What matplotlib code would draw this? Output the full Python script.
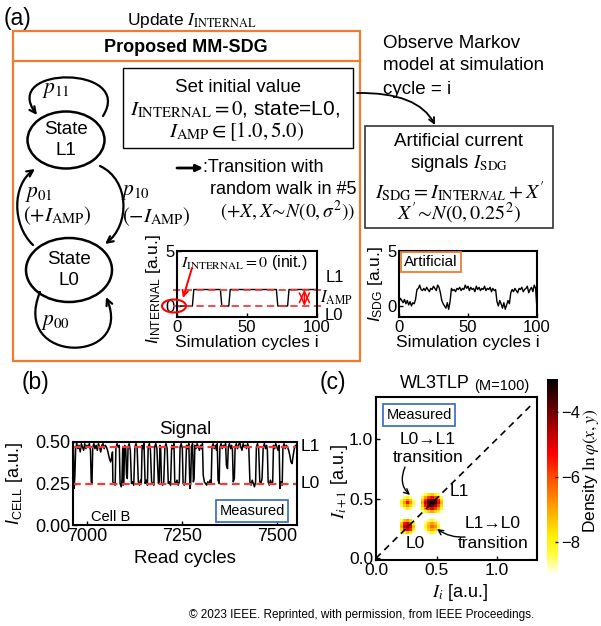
import numpy as np
import matplotlib
matplotlib.use('Agg')
import matplotlib.pyplot as plt
from matplotlib.patches import Rectangle, Ellipse, FancyArrowPatch
from matplotlib.path import Path
from matplotlib.ticker import FormatStrFormatter
from matplotlib.colors import LinearSegmentedColormap

plt.rcParams['font.family'] = ['Liberation Sans', 'DejaVu Sans']
plt.rcParams['mathtext.fontset'] = 'custom'
plt.rcParams['mathtext.rm'] = 'Liberation Sans'
plt.rcParams['mathtext.it'] = 'Liberation Sans:italic'
plt.rcParams['mathtext.bf'] = 'Liberation Sans:bold'

# ---------------- data ----------------
# (a) left inset: internal current of the Markov model
int_cycles = [0, 11, 12, 31, 32, 37, 38, 71, 72, 79, 80, 100]
int_values = [0, 0, 1.5, 1.5, 0, 0, 1.5, 1.5, 0, 0, 1.5, 1.5]
int_levels = [0.0, 1.5]

# (a) right inset: artificial current I_SDG
sdg_cycles = list(range(101))
sdg_values = [0.4, 0.7, 0.5, 0.3, 0.6, 0.2, 0.5, 0.1, 0.4, 0.0, 0.3, 0.2,
              0.6,
              1.5, 1.6, 1.9, 1.5, 1.4, 1.6, 1.4, 1.7, 1.5, 1.3, 1.6, 1.5, 1.8, 1.6, 1.4, 1.9, 1.7, 1.2,
              0.5, 0.2, 0.0, -0.2, 0.3, -0.3, 0.4,
              1.6, 1.4, 1.5, 1.3, 1.6, 1.5, 1.7, 1.4, 1.6, 1.5, 1.9, 1.6, 1.8, 1.4, 1.7, 1.5, 1.6,
              1.3, 1.8, 1.5, 1.7, 1.4, 1.6, 1.5, 1.8, 1.4, 1.6, 1.5, 1.7, 1.3, 1.6, 1.4, 1.5,
              0.4, 0.0, 0.5, 0.2, -0.2, 0.3, -0.3, 0.1, 0.5, 0.2,
              1.2, 1.5, 1.3, 1.6, 1.4, 1.2, 1.6, 1.5, 1.7, 1.3, 1.5, 1.6, 1.8, 1.2, 1.5, 1.7, 1.3, 1.9, 1.6,
              -0.3]

# (b) measured cell current
b_cycles = [6964, 6966, 6968, 6970, 6973, 6976, 6979, 6982, 6985, 6988, 6991, 6994, 6997, 7000,
            7003, 7006, 7009, 7011, 7013, 7015, 7018, 7021, 7024, 7027, 7030, 7033, 7036, 7039,
            7042, 7045, 7048, 7051, 7054, 7056, 7059, 7062, 7065, 7067, 7068, 7071, 7074, 7076,
            7079, 7082, 7085, 7087, 7090, 7092, 7094, 7095, 7097, 7099, 7102, 7104, 7106, 7108,
            7111, 7114, 7117, 7120, 7123, 7126, 7129, 7132, 7135, 7138, 7141, 7143, 7145, 7148,
            7150, 7153, 7156, 7159, 7161, 7164, 7167, 7170, 7173, 7176, 7178, 7181, 7184, 7188,
            7190, 7192, 7194, 7196, 7199, 7202, 7205, 7208, 7211, 7214, 7217, 7220, 7223, 7226,
            7229, 7231, 7234, 7237, 7240, 7243, 7245, 7248, 7251, 7253, 7256, 7259, 7262, 7265,
            7268, 7271, 7273, 7275, 7278, 7280, 7282, 7284, 7287, 7290, 7293, 7296, 7299, 7302,
            7304, 7306, 7309, 7312, 7315, 7318, 7321, 7324, 7327, 7329, 7332, 7335, 7338, 7341,
            7343, 7345, 7348, 7350, 7353, 7356, 7359, 7362, 7365, 7367, 7370, 7372, 7375, 7378,
            7381, 7383, 7385, 7388, 7390, 7393, 7396, 7399, 7402, 7405, 7408, 7411, 7414, 7417,
            7420, 7423, 7426, 7429, 7432, 7435, 7438, 7441, 7444, 7446, 7449, 7452, 7455, 7458,
            7461, 7464, 7467, 7470, 7473, 7475, 7477, 7480, 7483, 7486, 7489, 7491, 7494, 7497,
            7500, 7503, 7506, 7508, 7511, 7514, 7516, 7519, 7522, 7525, 7528, 7531, 7534, 7537,
            7540, 7543, 7546, 7549, 7552]
b_current = [0.47, 0.22, 0.30, 0.46, 0.49, 0.46, 0.48, 0.44, 0.49, 0.47, 0.45, 0.49, 0.46, 0.48,
             0.47, 0.49, 0.45, 0.26, 0.25, 0.47, 0.49, 0.46, 0.48, 0.45, 0.49, 0.47, 0.44, 0.48,
             0.49, 0.46, 0.48, 0.47, 0.45, 0.43, 0.40, 0.38, 0.41, 0.44, 0.26, 0.25, 0.24, 0.46,
             0.49, 0.47, 0.48, 0.25, 0.23, 0.27, 0.47, 0.24, 0.26, 0.48, 0.46, 0.30, 0.28, 0.47,
             0.49, 0.45, 0.25, 0.26, 0.24, 0.47, 0.49, 0.46, 0.26, 0.24, 0.27, 0.25, 0.48, 0.46,
             0.49, 0.25, 0.27, 0.24, 0.47, 0.49, 0.45, 0.26, 0.25, 0.24, 0.47, 0.49, 0.46, 0.25,
             0.26, 0.48, 0.46, 0.25, 0.24, 0.26, 0.47, 0.49, 0.46, 0.25, 0.26, 0.24, 0.48, 0.46,
             0.49, 0.26, 0.25, 0.27, 0.24, 0.26, 0.47, 0.49, 0.46, 0.25, 0.24, 0.26, 0.48, 0.46,
             0.49, 0.22, 0.25, 0.47, 0.49, 0.26, 0.28, 0.48, 0.46, 0.49, 0.47, 0.45, 0.48, 0.46,
             0.49, 0.30, 0.26, 0.25, 0.24, 0.26, 0.25, 0.27, 0.25, 0.47, 0.49, 0.46, 0.48, 0.45,
             0.49, 0.27, 0.25, 0.47, 0.49, 0.46, 0.48, 0.47, 0.49, 0.36, 0.34, 0.47, 0.49, 0.46,
             0.48, 0.45, 0.26, 0.28, 0.47, 0.49, 0.46, 0.48, 0.50, 0.47, 0.45, 0.49, 0.47, 0.48,
             0.46, 0.49, 0.47, 0.26, 0.24, 0.27, 0.25, 0.23, 0.26, 0.47, 0.49, 0.46, 0.26, 0.25,
             0.28, 0.47, 0.49, 0.46, 0.48, 0.45, 0.26, 0.24, 0.27, 0.25, 0.26, 0.48, 0.46, 0.49,
             0.47, 0.45, 0.48, 0.22, 0.26, 0.24, 0.47, 0.49, 0.46, 0.48, 0.47, 0.45, 0.42, 0.38,
             0.37, 0.42, 0.46, 0.48, 0.47]
b_levels = [0.47, 0.25]
b_level_names = ['L1', 'L0']

# (c) log-density map ln(phi) on a grid of 0.025-wide bins starting at 0.15
bin_start = 0.15
bin_width = 0.025
n_bins = 18
n = np.nan
blob_L1 = [[-8.6, -8.0, -7.4, -7.0, -7.5, -8.2, -8.8],
           [-8.0, -6.8, -5.6, -5.0, -5.8, -7.0, -8.2],
           [-7.4, -5.4, -4.2, -3.7, -4.4, -5.9, -7.6],
           [-7.0, -4.9, -3.6, -3.1, -3.5, -5.2, -7.2],
           [-7.5, -5.7, -4.3, -3.6, -4.1, -5.6, -7.7],
           [-8.2, -7.0, -5.9, -5.3, -6.0, -7.2, -8.3],
           [-8.8, -8.3, -7.7, -7.4, -7.9, -8.5, n]]
blob_L0 = [[-8.6, -7.9, -7.3, -7.9, -8.7],
           [-7.6, -5.8, -4.9, -5.6, -7.8],
           [-7.0, -4.8, -4.0, -5.1, -7.3],
           [-7.4, -5.4, -4.9, -6.0, -7.9],
           [-8.5, -7.3, -6.8, -7.6, -8.8]]
blob_L0L1 = [[n, -8.6, -8.1, -8.5, n],
             [-8.4, -7.4, -6.8, -7.5, -8.5],
             [-8.0, -6.9, -5.4, -6.8, -8.2],
             [-8.3, -7.4, -6.7, -7.4, -8.6],
             [n, -8.4, -8.0, -8.6, n]]
blob_L1L0 = [[n, -8.6, -8.2, -8.5, n],
             [-8.5, -7.5, -7.0, -7.4, -8.4],
             [-8.2, -7.1, -6.3, -6.8, -8.1],
             [-8.5, -7.5, -6.9, -7.4, -8.5],
             [n, -8.5, -8.1, -8.6, n]]
# (first column bin, first row bin) of each blob
blob_origin = {'L1': (9, 9), 'L0': (2, 2), 'L0L1': (2, 10), 'L1L0': (10, 2)}

# ---------------- figure ----------------
W, H = 601, 626
fig = plt.figure(figsize=(W / 100, H / 100), dpi=100)

def rect(l, t, r, b):
    return [l / W, 1 - b / H, (r - l) / W, (b - t) / H]

ORANGE = '#ED7D31'
BLUE = '#4472C4'
RED = '#FF0000'
DRED = '#F43A3A'
SERIF = 'stix'

dens_cmap = LinearSegmentedColormap.from_list(
    'dens', [(0.0, '#FFFFFF'), (0.04, '#FFFFB8'), (0.1, '#FFFF40'), (0.2, '#FFEE00'),
             (0.33, '#FFA800'), (0.5, '#FF4A00'), (0.62, '#FF0000'), (0.8, '#8A0000'),
             (1.0, '#000000')])

bg = fig.add_axes([0, 0, 1, 1], zorder=0)
bg.set_xlim(0, W); bg.set_ylim(H, 0); bg.set_axis_off()
fg = fig.add_axes([0, 0, 1, 1], zorder=5)
fg.set_xlim(0, W); fg.set_ylim(H, 0); fg.set_axis_off(); fg.patch.set_alpha(0)

def bez_arrow(ax, pts, lw=1.6, ms=11, color='k', style='->'):
    codes = [Path.MOVETO] + ([Path.CURVE4] * 3 if len(pts) == 4 else [Path.CURVE3] * 2)
    p = FancyArrowPatch(path=Path(pts, codes), arrowstyle=style, mutation_scale=ms,
                        lw=lw, color=color)
    ax.add_patch(p)

# ---- panel (a) frame & texts ----
bg.text(4, 18, '(a)', fontsize=16.5, va='center', ha='left')
bg.text(192, 20, r'Update $I_{\mathrm{INTERNAL}}$', fontsize=12.5, ha='center', va='center',
        math_fontfamily=SERIF)
bg.add_patch(Rectangle((13, 31), 347, 330, fill=False, ec=ORANGE, lw=1.6))
bg.plot([13, 360], [61, 61], color=ORANGE, lw=1.6)
bg.text(186, 47, 'Proposed MM-SDG', fontsize=13, fontweight='bold', ha='center', va='center')

bg.add_patch(Rectangle((123, 68), 230, 80, fill=False, ec='k', lw=1.0))
bg.text(238, 88, 'Set initial value', fontsize=13.5, ha='center', va='center')
bg.text(235, 110, r'$I_{\mathrm{INTERNAL}}=0$, state=L0,', fontsize=15, ha='center',
        va='center', math_fontfamily=SERIF)
bg.text(237, 132, r'$I_{\mathrm{AMP}}\in[1.0,5.0)$', fontsize=15, ha='center', va='center',
        math_fontfamily=SERIF)

# state diagram
bg.add_patch(Ellipse((66, 140), 77, 57, fill=False, ec='k', lw=1.8))
bg.add_patch(Ellipse((69, 270), 86, 64, fill=False, ec='k', lw=1.8))
bg.text(66, 140, 'State\nL1', fontsize=13.5, ha='center', va='center', linespacing=1.25)
bg.text(69, 270, 'State\nL0', fontsize=13.5, ha='center', va='center', linespacing=1.25)
bez_arrow(bg, [(103, 116), (135, 65), (0, 65), (37, 115)])
bez_arrow(bg, [(40, 292), (10, 365), (135, 365), (106, 297)])
bez_arrow(bg, [(33, 245), (12, 225), (12, 185), (35, 169)])
bez_arrow(bg, [(100, 166), (130, 180), (130, 225), (105, 244)])
bg.text(56, 90, r'$p_{11}$', fontsize=15.5, ha='center', va='center', math_fontfamily=SERIF)
bg.text(39, 193, r'$p_{01}$', fontsize=15.5, ha='center', va='center', math_fontfamily=SERIF)
bg.text(57, 216, r'$(+I_{\mathrm{AMP}})$', fontsize=15, ha='center', va='center',
        math_fontfamily=SERIF)
bg.text(136, 192, r'$p_{10}$', fontsize=15.5, ha='center', va='center', math_fontfamily=SERIF)
bg.text(156, 217, r'$(-I_{\mathrm{AMP}})$', fontsize=15, ha='center', va='center',
        math_fontfamily=SERIF)
bg.text(56, 322, r'$p_{00}$', fontsize=15.5, ha='center', va='center', math_fontfamily=SERIF)

# transition legend
bg.annotate('', xy=(203, 168), xytext=(177, 168),
            arrowprops=dict(arrowstyle='-|>', lw=2, color='k', mutation_scale=10,
                            shrinkA=0, shrinkB=0))
bg.text(203, 168, ':Transition with', fontsize=13, ha='left', va='center')
bg.text(210, 189, 'random walk in #5', fontsize=13, ha='left', va='center')
bg.text(288, 211, r'$(+X,X\!\sim\!N(0,\sigma^2))$', fontsize=14, ha='center', va='center',
        math_fontfamily=SERIF)

# observe text & artificial box
for k, line in enumerate(['Observe Markov', 'model at simulation', 'cycle = i']):
    bg.text(383, 43 + 23 * k, line, fontsize=13.5, ha='left', va='center')
bez_arrow(bg, [(357, 93), (418, 92), (435, 125)], lw=1.3, ms=10)
bg.add_patch(Rectangle((365, 126), 188, 102, fill=False, ec='#333333', lw=1.2))
bg.text(459, 142, 'Artificial current', fontsize=13.5, ha='center', va='center')
bg.text(459, 163, r'signals $I_{\mathrm{SDG}}$', fontsize=13.5, ha='center', va='center',
        math_fontfamily=SERIF)
bg.text(460, 192, r"$I_{\mathrm{SDG}}=I_{\mathrm{INTER}NAL}+X'$", fontsize=14.5, ha='center',
        va='center', math_fontfamily=SERIF)
bg.text(459, 213, r"$X'\!\sim\!N(0,0.25^2)$", fontsize=14.5, ha='center', va='center',
        math_fontfamily=SERIF)

def style_axes(ax, size):
    ax.tick_params(direction='in', length=3, width=1, labelsize=size, pad=2)
    for s in ax.spines.values():
        s.set_linewidth(1.5)

# left inset
a1 = fig.add_axes(rect(177, 251, 317, 317), zorder=2)
a1.patch.set_alpha(0)
a1.plot(int_cycles, int_values, color='k', lw=1.0)
for lv in int_levels:
    a1.plot([-3, 104], [lv, lv], ls=(0, (4, 2.5)), color=DRED, lw=1.3, clip_on=False)
a1.set_xlim(0, 100); a1.set_ylim(-1, 5)
a1.set_xticks([0, 50, 100]); a1.set_yticks([0, 5])
style_axes(a1, 12)
a1.set_xlabel('Simulation cycles i', fontsize=12.5, labelpad=0)
a1.set_ylabel(r'$I_{\mathrm{INTERNAL}}$ [a.u.]', fontsize=12.5)
a1.yaxis.set_label_coords(-0.10, 0.42)
a1.annotate('', xy=(91, int_levels[1]), xytext=(91, int_levels[0]),
            arrowprops=dict(arrowstyle='<->,head_length=0.45,head_width=0.2', color=RED,
                            lw=1.1, mutation_scale=18, shrinkA=0, shrinkB=0))
fg.text(181, 263, r'$I_{\mathrm{INTERNAL}}=0$ (init.)', fontsize=11.5, ha='left', va='center',
        math_fontfamily=SERIF)
fg.add_patch(Ellipse((174, 306), 24, 13, fill=False, ec=RED, lw=1.5))
fg.annotate('', xy=(183, 298), xytext=(192, 268),
            arrowprops=dict(arrowstyle='->', color=RED, lw=1.4, mutation_scale=10,
                            shrinkA=0, shrinkB=0))
fg.text(335, 277, 'L1', fontsize=12, ha='center', va='center')
fg.text(336, 298, r'$I_{\mathrm{AMP}}$', fontsize=12, ha='center', va='center',
        math_fontfamily=SERIF)
fg.text(334, 316, 'L0', fontsize=12, ha='center', va='center')

# right inset
a2 = fig.add_axes(rect(399, 251, 537, 317), zorder=2)
a2.plot(sdg_cycles, sdg_values, color='k', lw=1.0)
a2.set_xlim(0, 100); a2.set_ylim(-1, 5)
a2.set_xticks([0, 50, 100]); a2.set_yticks([0, 5])
style_axes(a2, 12)
a2.set_xlabel('Simulation cycles i', fontsize=12.5, labelpad=0)
a2.set_ylabel(r'$I_{\mathrm{SDG}}$ [a.u.]', fontsize=12.5)
a2.yaxis.set_label_coords(-0.10, 0.5)
fg.text(431, 262, 'Artificial', fontsize=11, ha='center', va='center',
        bbox=dict(boxstyle='square,pad=0.2', fc='white', ec=ORANGE, lw=1.3))

# ---- panel (b) ----
fg.text(22, 383, '(b)', fontsize=16.5, ha='left', va='center')
ab = fig.add_axes(rect(73, 442, 297, 525), zorder=2)
ab.plot(b_cycles, b_current, color='k', lw=1.1)
for lv in b_levels:
    ab.axhline(lv, ls=(0, (3.5, 2)), color=DRED, lw=1.6)
ab.set_xlim(6963, 7553); ab.set_ylim(0, 0.5)
ab.set_xticks([7000, 7250, 7500]); ab.set_yticks([0, 0.25, 0.5])
ab.yaxis.set_major_formatter(FormatStrFormatter('%.2f'))
style_axes(ab, 13)
ab.set_title('Signal', fontsize=13.5, pad=6)
ab.set_xlabel('Read cycles', fontsize=13.5, labelpad=4)
ab.set_ylabel(r'$I_{\mathrm{CELL}}$ [a.u.]', fontsize=13)
ab.yaxis.set_label_coords(-0.215, 0.5)
ab.text(0.17, 0.1, 'Cell B', transform=ab.transAxes, fontsize=10.5, ha='center', va='center')
fg.text(252, 511, 'Measured', fontsize=10.5, ha='center', va='center',
        bbox=dict(boxstyle='square,pad=0.25', fc='white', ec=BLUE, lw=1.3))
for lv, name in zip(b_levels, b_level_names):
    ab.text(1.06, lv, name, transform=ab.get_yaxis_transform(), fontsize=12.5,
            ha='center', va='center')

# ---- panel (c) ----
fg.text(320, 383, '(c)', fontsize=16.5, ha='left', va='center')
grid = np.full((n_bins, n_bins), np.nan)
for key, blk in [('L1', blob_L1), ('L0', blob_L0), ('L0L1', blob_L0L1), ('L1L0', blob_L1L0)]:
    c0, r0 = blob_origin[key]
    arr = np.array(blk)
    grid[r0:r0 + arr.shape[0], c0:c0 + arr.shape[1]] = arr
edges = bin_start + bin_width * np.arange(n_bins + 1)
ac = fig.add_axes(rect(376, 397, 537, 560), zorder=2)
mesh = ac.pcolormesh(edges, edges, np.ma.masked_invalid(grid), cmap=dens_cmap, vmin=-9, vmax=-3)
ac.plot([0, 1.3], [0, 1.3], color='k', ls=(0, (4, 3)), lw=1.2)
ac.set_xlim(0, 1.33); ac.set_ylim(-0.015, 1.35)
ac.set_xticks([0, 0.5, 1.0]); ac.set_yticks([0, 0.5, 1.0])
ac.xaxis.set_major_formatter(FormatStrFormatter('%.1f'))
ac.yaxis.set_major_formatter(FormatStrFormatter('%.1f'))
style_axes(ac, 12.5)
ac.set_xlabel(r'$I_i$ [a.u.]', fontsize=13, math_fontfamily=SERIF)
ac.xaxis.set_label_coords(0.52, -0.135)
ac.set_ylabel(r'$I_{i+1}$ [a.u.]', fontsize=13, math_fontfamily=SERIF)
ac.yaxis.set_label_coords(-0.16, 0.48)
fg.text(435, 383, 'WL3TLP', fontsize=13, ha='center', va='center')
fg.text(502, 386, '(M=100)', fontsize=10.5, ha='center', va='center')
fg.text(419, 415, 'Measured', fontsize=10.5, ha='center', va='center',
        bbox=dict(boxstyle='square,pad=0.25', fc='white', ec=BLUE, lw=1.3))
fg.text(428, 439, 'L0\u2192L1', fontsize=12.5, ha='center', va='center')
fg.text(428, 458, 'transition', fontsize=12.5, ha='center', va='center')
bez_arrow(fg, [(405, 467), (398, 484), (410, 495)], lw=1.0, ms=9)
fg.text(459, 491, 'L1', fontsize=12.5, ha='center', va='center')
fg.text(415, 543, 'L0', fontsize=12.5, ha='center', va='center')
fg.text(493, 524, 'L1\u2192L0', fontsize=12.5, ha='center', va='center')
fg.text(493, 544, 'transition', fontsize=12.5, ha='center', va='center')
bez_arrow(fg, [(465, 537), (450, 538), (437, 529)], lw=1.0, ms=9)

cax = fig.add_axes(rect(547, 379, 558, 575), zorder=2)
cb = fig.colorbar(mesh, cax=cax)
cb.set_ticks([-4, -6, -8])
cb.outline.set_visible(False)
cax.tick_params(direction='in', length=2, width=1, labelsize=12, pad=2)
cb.set_label(r'Density $\ln\varphi(x,y)$', fontsize=12.5, math_fontfamily=SERIF)
cax.yaxis.set_label_coords(3.0, 0.53)

fg.text(362, 615, '\u00a9 2023 IEEE. Reprinted, with permission, from IEEE Proceedings.',
        fontsize=8.5, ha='center', va='center')

fig.savefig('out.png', dpi=100)
